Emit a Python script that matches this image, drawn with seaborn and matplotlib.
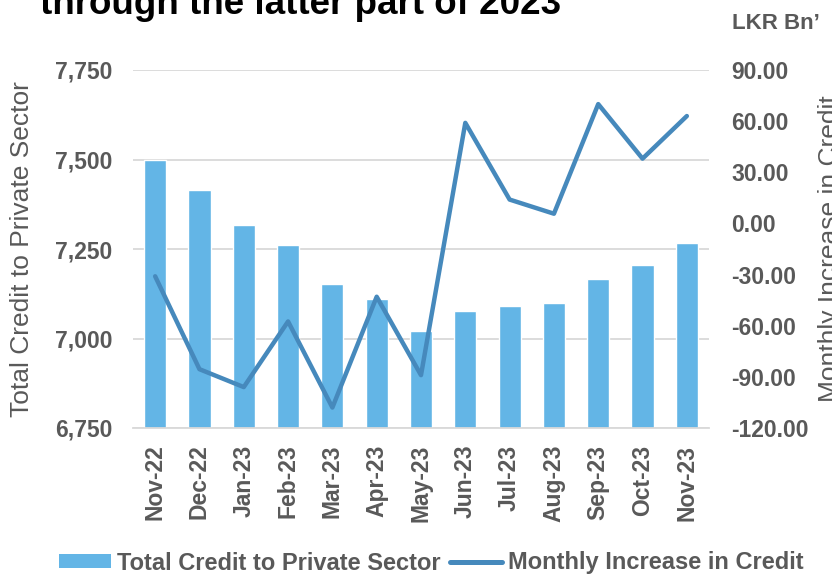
import numpy as np
import pandas as pd
import matplotlib
matplotlib.use("Agg")
import matplotlib.pyplot as plt
from matplotlib.ticker import FixedLocator, FuncFormatter
from matplotlib.patches import Patch
from matplotlib.lines import Line2D
import seaborn as sns

months = ["Nov-22", "Dec-22", "Jan-23", "Feb-23", "Mar-23", "Apr-23", "May-23",
          "Jun-23", "Jul-23", "Aug-23", "Sep-23", "Oct-23", "Nov-23"]
total_credit = [7500, 7414, 7318, 7260, 7152, 7109, 7020,
                7078, 7092, 7098, 7167, 7205, 7268]
monthly_increase = [-31.0, -85.5, -96.0, -57.5, -108.0, -43.0, -89.0,
                    59.0, 14.0, 5.7, 70.0, 38.0, 63.0]

bar_color = "#63B5E6"
line_color = "#4689BC"
text_gray = "#595959"
grid_gray = "#D9D9D9"
tick_size = 16.5

sns.set_theme(style="white")
plt.rcParams["font.family"] = ["Liberation Sans", "DejaVu Sans"]

df = pd.DataFrame({"month": months, "credit": total_credit,
                   "increase": monthly_increase, "pos": np.arange(len(months))})

fig = plt.figure(figsize=(8.32, 5.76), dpi=100)
ax = fig.add_axes([133 / 832, 1 - 428 / 576, (709 - 133) / 832, (428 - 70) / 576])

# bars: total credit (left axis)
sns.barplot(data=df, x="pos", y="credit", color=bar_color, width=0.5,
            saturation=1, ax=ax, zorder=2, native_scale=True)
ax.set_ylim(6750, 7750)
ax.set_xlim(-0.5, len(months) - 0.5)
ax.yaxis.set_major_locator(FixedLocator([6750, 7000, 7250, 7500, 7750]))
ax.yaxis.set_major_formatter(FuncFormatter(lambda v, p: f"{v:,.0f}"))
ax.grid(axis="y", color=grid_gray, linewidth=1.3, zorder=0)
ax.set_axisbelow(True)
for s in ["top", "left", "right"]:
    ax.spines[s].set_visible(False)
ax.spines["bottom"].set_color(grid_gray)
ax.spines["bottom"].set_linewidth(1.3)

ax.set_xticks(np.arange(len(months)))
ax.set_xticklabels(months, rotation=90, fontsize=tick_size, fontweight="bold",
                   color=text_gray)
ax.set_xticks(np.arange(len(months) + 1) - 0.5, minor=True)
ax.tick_params(axis="x", which="major", length=0, pad=12)
ax.tick_params(axis="x", which="minor", length=5.5, color=grid_gray, width=1.3)
ax.tick_params(axis="y", length=0, pad=15, labelsize=tick_size, labelcolor=text_gray)
for lbl in ax.get_yticklabels():
    lbl.set_fontweight("bold")
ax.set_xlabel("")
ax.set_ylabel("Total Credit to Private Sector", fontsize=19, color=text_gray)
ax.yaxis.set_label_coords((34 - 133) / 576, 0.5)

# line: monthly increase (right axis)
ax2 = ax.twinx()
sns.lineplot(data=df, x="pos", y="increase", color=line_color, linewidth=3.2,
             ax=ax2, zorder=3)
ax2.set_ylim(-120, 90)
ax2.yaxis.set_major_locator(FixedLocator(np.arange(-120, 91, 30)))
ax2.yaxis.set_major_formatter(FuncFormatter(lambda v, p: f"{v:.2f}"))
ax2.tick_params(axis="y", length=0, pad=16, labelsize=tick_size, labelcolor=text_gray)
for lbl in ax2.get_yticklabels():
    lbl.set_fontweight("bold")
for s in ax2.spines.values():
    s.set_visible(False)
ax2.set_xlabel("")
ax2.set_ylabel("Monthly Increase in Credit", fontsize=19, color=text_gray, rotation=90)
ax2.yaxis.set_label_coords((818 - 133) / 576, 0.5)

fig.text(40 / 832, 1 - 14 / 576, "through the latter part of 2023", fontsize=26.5,
         fontweight="bold", color="black", ha="left", va="baseline")
fig.text(732 / 832, 1 - 29 / 576, "LKR Bn\u2019", fontsize=16, fontweight="bold",
         color=text_gray, ha="left", va="baseline")

handles = [Patch(facecolor=bar_color, edgecolor="none"),
           Line2D([0], [0], color=line_color, linewidth=3.6, solid_capstyle="round")]
fig.legend(handles, ["Total Credit to Private Sector", "Monthly Increase in Credit"],
           loc="center", bbox_to_anchor=(431 / 832, 1 - 563 / 576), ncol=2,
           frameon=False, handlelength=2.2, handleheight=0.5, handletextpad=0.25,
           columnspacing=0.4, borderaxespad=0, borderpad=0,
           prop={"weight": "bold", "size": 17}, labelcolor=text_gray)

fig.savefig("out.png", dpi=100)
